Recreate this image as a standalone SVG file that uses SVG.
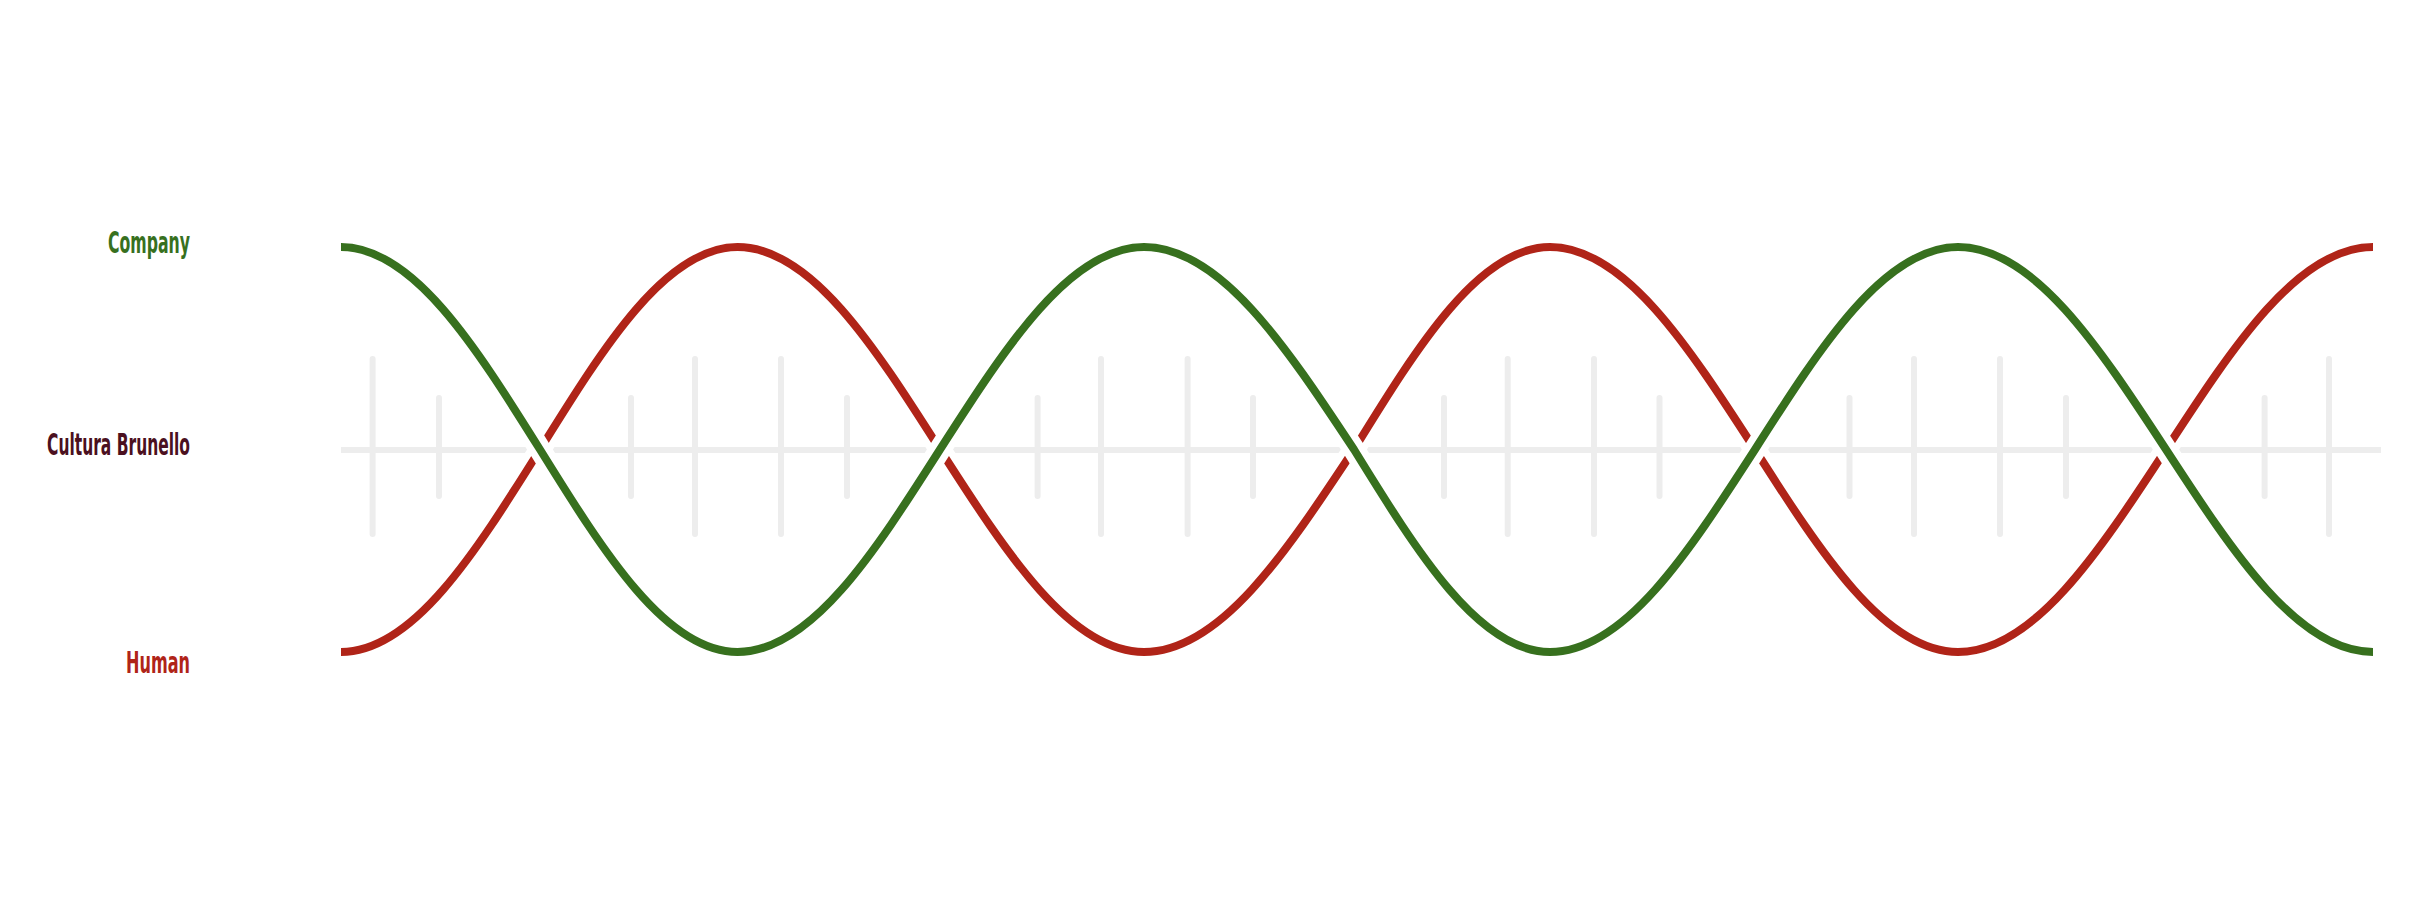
<svg xmlns="http://www.w3.org/2000/svg" width="2424" height="898" viewBox="0 0 2424 898">
<style>
.label{font-family:"Liberation Sans Narrow","DejaVu Sans Condensed","Liberation Sans",sans-serif;font-weight:bold;font-size:30px}
.axis{stroke:#ededed;stroke-width:6;fill:none}
.tick{stroke:#ededed;stroke-width:6;stroke-linecap:round;fill:none}
.halo{stroke:#ffffff;stroke-width:22;fill:none}
.green{stroke:#37701e;stroke-width:8;fill:none}
.red{stroke:#b02418;stroke-width:8;fill:none}
</style>
<defs>
<path id="greenPath" d="M341,247 C413,247 475.1,345.8 540,449.5 C604.4,553.2 666,652 737.5,652 C810.8,652 874,553.2 940,449.5 C1006.5,345.8 1070.2,247 1144,247 C1220,247 1285.5,345.8 1354,449.5 C1417.9,553.2 1479.1,652 1550,652 C1624.2,652 1688.1,553.2 1755,449.5 C1821.2,345.8 1884.5,247 1958,247 C2033.3,247 2098.2,345.8 2166,449.5 C2233.5,553.2 2298.1,652 2373,652"/>
<path id="redPath" d="M341,652 C413,652 475.1,553.2 540,449.5 C604.4,345.8 666,247 737.5,247 C810.8,247 874,345.8 940,449.5 C1006.5,553.2 1070.2,652 1144,652 C1220,652 1285.5,553.2 1354,449.5 C1417.9,345.8 1479.1,247 1550,247 C1624.2,247 1688.1,345.8 1755,449.5 C1821.2,553.2 1884.5,652 1958,652 C2033.3,652 2098.2,553.2 2166,449.5 C2233.5,345.8 2298.1,247 2373,247"/>
</defs>
<rect width="2424" height="898" fill="#ffffff"/>
<g id="labels">
<g id="node-company"><text class="label" x="108" y="253" fill="#37701e" textLength="82" lengthAdjust="spacingAndGlyphs">Company</text></g>
<g id="node-cultura-brunello"><text class="label" x="47" y="455" fill="#4b1020" textLength="143" lengthAdjust="spacingAndGlyphs">Cultura Brunello</text></g>
<g id="node-human"><text class="label" x="126" y="673" fill="#b02418" textLength="64" lengthAdjust="spacingAndGlyphs">Human</text></g>
</g>
<g id="axis">
<line class="axis" x1="341" y1="450" x2="2381" y2="450"/>
<g id="long-ticks">
<line class="tick" x1="372.6" y1="359" x2="372.6" y2="534"/>
<line class="tick" x1="695" y1="359" x2="695" y2="534"/>
<line class="tick" x1="781" y1="359" x2="781" y2="534"/>
<line class="tick" x1="1101" y1="359" x2="1101" y2="534"/>
<line class="tick" x1="1187.6" y1="359" x2="1187.6" y2="534"/>
<line class="tick" x1="1507.7" y1="359" x2="1507.7" y2="534"/>
<line class="tick" x1="1594" y1="359" x2="1594" y2="534"/>
<line class="tick" x1="1914" y1="359" x2="1914" y2="534"/>
<line class="tick" x1="2000" y1="359" x2="2000" y2="534"/>
<line class="tick" x1="2329" y1="359" x2="2329" y2="534"/>
</g>
<g id="short-ticks">
<line class="tick" x1="439" y1="398" x2="439" y2="496"/>
<line class="tick" x1="631" y1="398" x2="631" y2="496"/>
<line class="tick" x1="847" y1="398" x2="847" y2="496"/>
<line class="tick" x1="1037.6" y1="398" x2="1037.6" y2="496"/>
<line class="tick" x1="1253" y1="398" x2="1253" y2="496"/>
<line class="tick" x1="1444" y1="398" x2="1444" y2="496"/>
<line class="tick" x1="1659.5" y1="398" x2="1659.5" y2="496"/>
<line class="tick" x1="1849.5" y1="398" x2="1849.5" y2="496"/>
<line class="tick" x1="2066" y1="398" x2="2066" y2="496"/>
<line class="tick" x1="2264.6" y1="398" x2="2264.6" y2="496"/>
</g>
</g>
<g id="connectors">
<g id="strand-human">
<use href="#redPath" class="halo"/>
<use href="#redPath" class="red"/>
</g>
<g id="strand-company">
<use href="#greenPath" class="halo"/>
<use href="#greenPath" class="green"/>
</g>
</g>
</svg>
